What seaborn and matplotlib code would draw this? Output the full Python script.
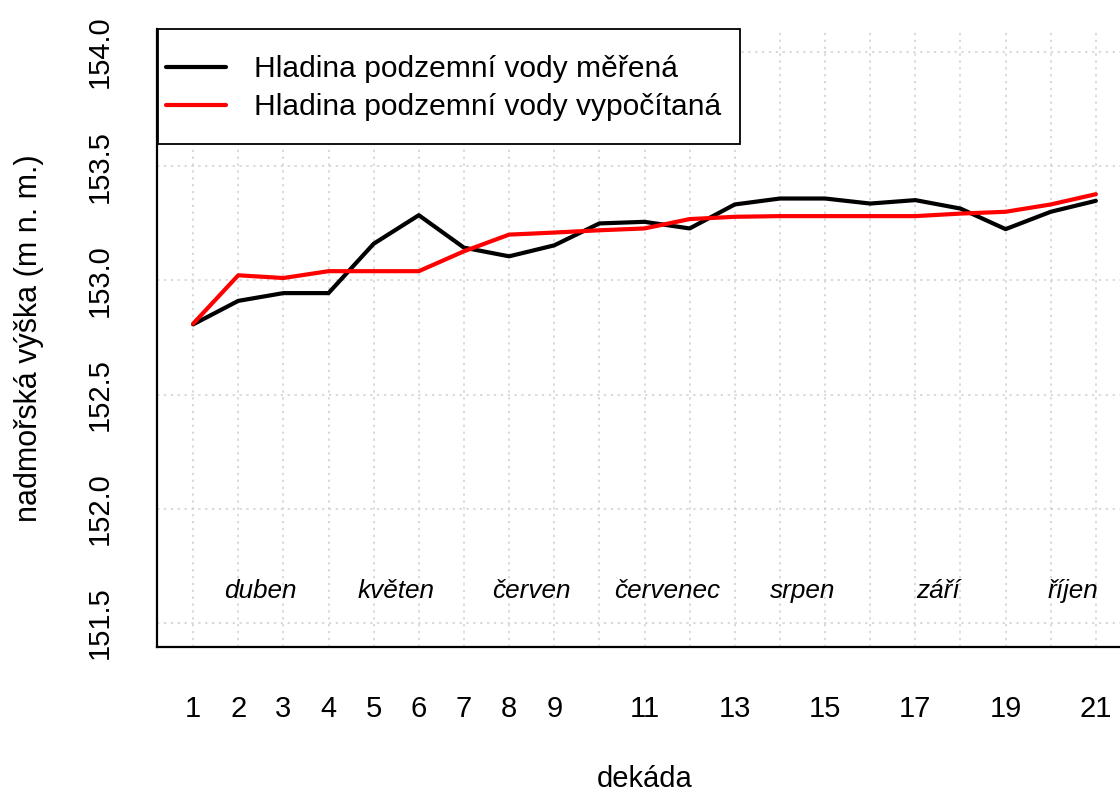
import numpy as np
import pandas as pd
import matplotlib
matplotlib.use("Agg")
import matplotlib.pyplot as plt
from matplotlib.patches import Rectangle
from matplotlib.lines import Line2D
import seaborn as sns

# ---- data ----
dekada = list(range(1, 22))
merena = [152.807, 152.91, 152.944, 152.944, 153.16, 153.285, 153.143, 153.105,
          153.153, 153.249, 153.256, 153.227, 153.332, 153.358, 153.358, 153.336,
          153.351, 153.314, 153.224, 153.30, 153.348]
vypocitana = [152.81, 153.022, 153.01, 153.04, 153.04, 153.04, 153.127, 153.20,
              153.209, 153.219, 153.227, 153.268, 153.278, 153.281, 153.281, 153.281,
              153.281, 153.292, 153.30, 153.332, 153.377]
series_names = ["Hladina podzemní vody měřená", "Hladina podzemní vody vypočítaná"]
series_colors = ["black", "red"]
months = ["duben", "květen", "červen", "červenec", "srpen", "září", "říjen"]
month_pos = [2.5, 5.5, 8.5, 11.5, 14.5, 17.5, 20.5]
month_y = 151.64
xtick_vals = list(range(1, 22))
xtick_labels = ["1", "2", "3", "4", "5", "6", "7", "8", "9", "", "11", "", "13", "",
                "15", "", "17", "", "19", "", "21"]
ytick_vals = [151.5, 152.0, 152.5, 153.0, 153.5, 154.0]
ytick_labels = ["151.5", "152.0", "152.5", "153.0", "153.5", "154.0"]

df = pd.DataFrame({
    "dekada": dekada * 2,
    "value": merena + vypocitana,
    "series": [series_names[0]] * len(dekada) + [series_names[1]] * len(dekada),
})

sns.set_theme(style="white")
plt.rcParams["font.family"] = ["Liberation Sans", "DejaVu Sans"]
plt.rcParams["text.color"] = "black"
plt.rcParams["axes.labelcolor"] = "black"
plt.rcParams["xtick.color"] = "black"
plt.rcParams["ytick.color"] = "black"

W, H = 1120, 796
fig = plt.figure(figsize=(W / 100, H / 100), dpi=100)
ax_l, ax_r, ax_t, ax_b = 157, 1132, 29, 647
ax = fig.add_axes([ax_l / W, 1 - ax_b / H, (ax_r - ax_l) / W, (ax_b - ax_t) / H])

def ax_x(px):
    return (px - ax_l) / (ax_r - ax_l)

def ax_y(py):
    return (ax_b - py) / (ax_b - ax_t)

sns.lineplot(data=df, x="dekada", y="value", hue="series",
             palette=dict(zip(series_names, series_colors)),
             linewidth=3.0, ax=ax, legend=False, zorder=3)

ax.set_xlim(0.2, 21.8)
ax.set_ylim(151.395, 154.10)

ax.set_xticks(xtick_vals)
ax.set_xticklabels(xtick_labels)
ax.set_yticks(ytick_vals)
ax.set_yticklabels(ytick_labels, rotation=90, va="center")

ax.grid(True, color="#cfcfcf", linestyle=(0, (1.5, 3)), linewidth=1.1, zorder=0)
ax.set_axisbelow(True)

for s in ["top", "right"]:
    ax.spines[s].set_visible(False)
for s in ["left", "bottom"]:
    ax.spines[s].set_color("black")
    ax.spines[s].set_linewidth(1.6)

ax.tick_params(axis="both", which="both", direction="out", length=7.5, width=1.2,
               color="black", labelsize=21, labelcolor="black")
ax.tick_params(axis="x", pad=27)
ax.tick_params(axis="y", pad=24)

ax.set_xlabel("dekáda", fontsize=21, labelpad=30, color="black")
ax.set_ylabel("nadmořská výška (m n. m.)", fontsize=22, labelpad=30, color="black")

for name, xp in zip(months, month_pos):
    ax.text(xp, month_y, name, fontsize=18.8, style="italic", ha="center", va="center",
            color="black", zorder=4)

# legend box (R style: square, anchored at top-left corner of plot region)
box = Rectangle((ax_x(158), ax_y(144)), ax_x(740) - ax_x(158), ax_y(29) - ax_y(144),
                transform=ax.transAxes, facecolor="white", edgecolor="black",
                linewidth=1.3, zorder=5, clip_on=False)
ax.add_patch(box)

handles = [Line2D([], [], color=c, linewidth=3.0) for c in series_colors]
leg = ax.legend(handles, series_names, loc="upper left",
                bbox_to_anchor=(ax_x(166), ax_y(55)),
                borderaxespad=0, frameon=False, fontsize=21.6, handlelength=2.0,
                handletextpad=0.95, borderpad=0.0, labelspacing=0.34)
leg.set_zorder(6)
for t in leg.get_texts():
    t.set_color("black")

fig.savefig("out.png", dpi=100, facecolor="white")
